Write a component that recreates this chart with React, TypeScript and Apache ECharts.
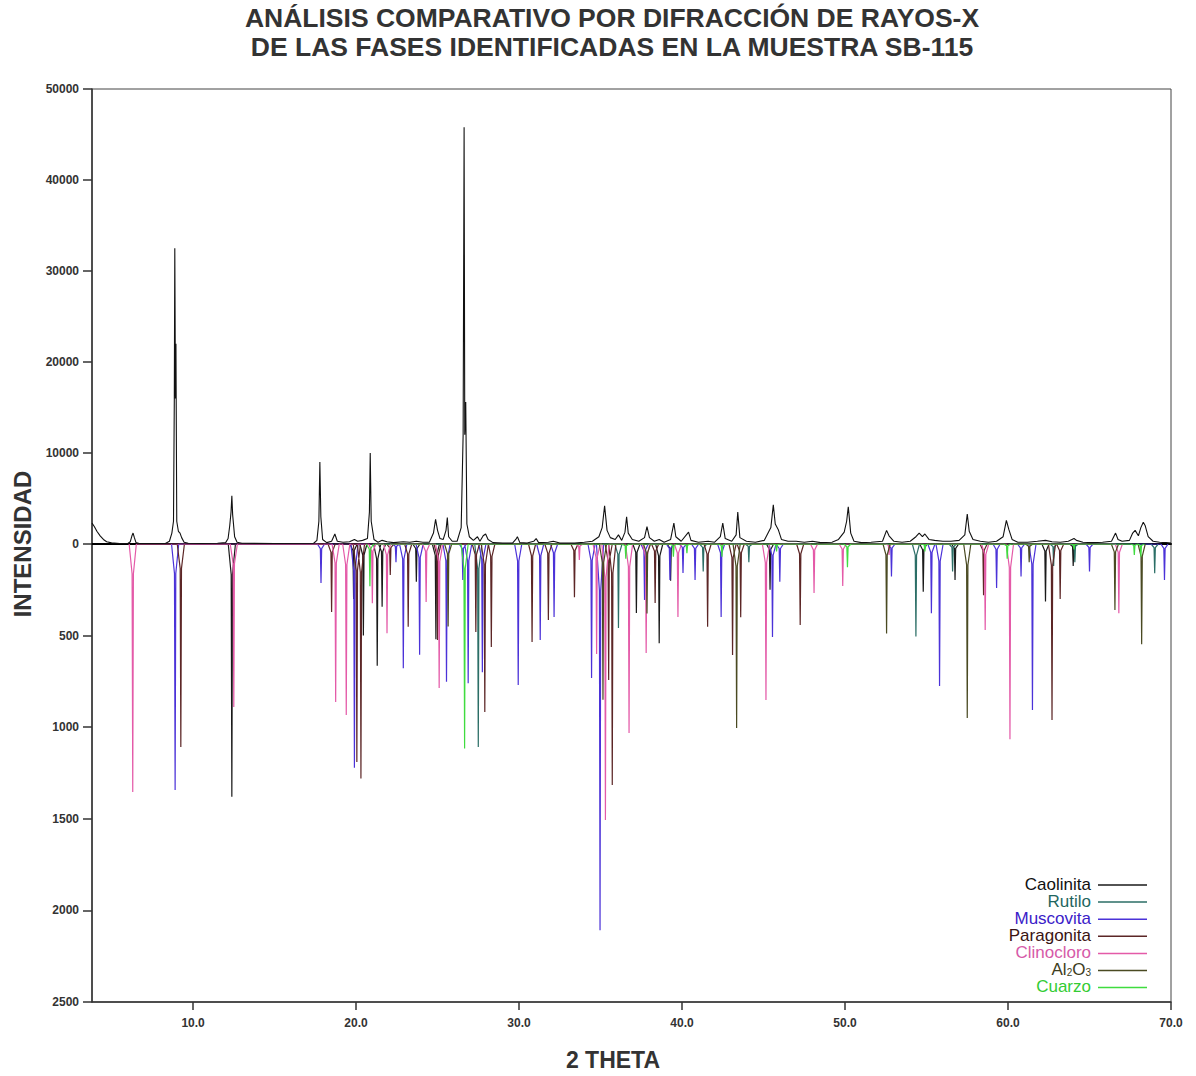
import React, { useEffect, useRef } from "react";
import * as echarts from "echarts";

// ---------- DATA ----------
const xTickValues = [10, 20, 30, 40, 50, 60, 70];

// measured diffractogram (2θ, counts) – upper panel
const observedPattern: number[][] = [
  [3.8, 2300], [3.95, 1900], [4.1, 1400], [4.3, 900], [4.5, 500], [4.7, 250], [5.0, 120], [5.5, 60], [6.0, 50],
  [6.15, 250], [6.25, 900], [6.32, 1200], [6.4, 700], [6.5, 150], [6.7, 50],
  [8.3, 60], [8.55, 300], [8.7, 1200], [8.8, 2500], [8.85, 16000], [8.88, 32500], [8.92, 16000], [8.95, 22000],
  [9.0, 2500], [9.1, 1400], [9.2, 1200], [9.3, 700], [9.45, 200], [9.7, 80],
  [10.5, 60], [11.5, 80], [12.0, 150], [12.15, 600], [12.25, 2000], [12.33, 3500], [12.38, 5300], [12.43, 3200],
  [12.55, 800], [12.7, 200], [13.0, 80], [15.0, 60],
  [17.4, 80], [17.6, 400], [17.72, 2500], [17.78, 9000], [17.84, 3000], [17.95, 500], [18.2, 150], [18.5, 300],
  [18.7, 1100], [18.85, 300], [19.2, 200], [19.6, 250], [19.9, 500], [20.1, 300], [20.4, 400], [20.7, 600],
  [20.82, 3500], [20.87, 10000], [20.93, 2500], [21.1, 500], [21.35, 200], [21.6, 400], [21.9, 250], [22.3, 150],
  [22.9, 250], [23.3, 200], [23.7, 300], [24.1, 200], [24.5, 200], [24.75, 1200], [24.88, 2700], [25.0, 1500],
  [25.15, 600], [25.35, 500], [25.52, 1500], [25.6, 2900], [25.68, 800], [25.9, 300], [26.2, 300], [26.45, 1800],
  [26.57, 12000], [26.63, 45800], [26.67, 12000], [26.73, 15600], [26.8, 2200], [26.95, 800], [27.2, 400],
  [27.45, 800], [27.6, 300], [27.8, 900], [27.95, 1100], [28.1, 500], [28.4, 150], [29.0, 100],
  [29.6, 100], [29.8, 500], [29.9, 800], [30.05, 150], [30.5, 100], [30.9, 300], [31.05, 600], [31.2, 150],
  [31.8, 200], [32.1, 300], [32.5, 100], [33.4, 100], [34.0, 200], [34.5, 300], [34.9, 800], [35.1, 1800],
  [35.25, 4200], [35.4, 1500], [35.6, 700], [35.9, 500], [36.1, 1000], [36.3, 400], [36.5, 1300], [36.6, 3000],
  [36.7, 1200], [36.95, 500], [37.35, 300], [37.7, 700], [37.85, 1900], [38.0, 700], [38.3, 300], [38.6, 500],
  [38.9, 200], [39.3, 500], [39.5, 2300], [39.62, 800], [39.95, 300], [40.4, 1300], [40.55, 400], [41.0, 200],
  [41.6, 300], [42.0, 200], [42.35, 800], [42.5, 2300], [42.65, 600], [43.05, 300], [43.32, 1000], [43.42, 3500],
  [43.55, 700], [43.95, 300], [44.5, 200], [45.05, 400], [45.45, 1800], [45.6, 4300], [45.72, 2200], [45.9, 1600],
  [46.1, 500], [46.5, 300], [47.0, 300], [47.5, 200], [48.0, 300], [48.5, 150], [49.2, 200], [49.6, 500],
  [49.95, 1300], [50.1, 2500], [50.2, 4100], [50.35, 1200], [50.55, 300], [51.0, 150], [51.6, 200], [52.3, 300],
  [52.55, 1500], [52.7, 900], [53.0, 300], [53.5, 200], [54.0, 300], [54.35, 800], [54.55, 1200], [54.75, 800],
  [54.9, 1100], [55.15, 500], [55.5, 400], [56.0, 300], [56.5, 300], [57.0, 400], [57.35, 1000], [57.5, 3300],
  [57.62, 1400], [57.85, 500], [58.3, 300], [58.8, 200], [59.3, 300], [59.7, 800], [59.9, 2600], [60.05, 1600],
  [60.25, 500], [60.6, 200], [61.2, 200], [61.8, 300], [62.3, 400], [62.7, 250], [63.2, 200], [63.7, 300],
  [64.05, 600], [64.2, 400], [64.6, 200], [65.2, 150], [65.8, 200], [66.35, 300], [66.6, 1200], [66.75, 500],
  [67.0, 300], [67.45, 400], [67.65, 1200], [67.8, 1500], [68.0, 900], [68.15, 1800], [68.3, 2400], [68.42, 2000],
  [68.6, 800], [68.9, 300], [69.3, 200], [69.7, 150], [70.0, 100],
];

// reference patterns (2θ, intensity) – lower panel, drawn downwards
const caolinitaPeaks: number[][] = [
  [12.38, 1380], [19.85, 300], [20.45, 500], [21.3, 664], [21.6, 343], [23.7, 206], [24.9, 520], [37.2, 377],
  [38.6, 542], [39.3, 200], [45.4, 250], [54.8, 260], [56.75, 196], [62.3, 314], [64.0, 120],
];
const rutiloPeaks: number[][] = [
  [27.5, 1108], [36.1, 458], [41.3, 150], [44.1, 100], [54.35, 505], [56.6, 150], [62.8, 120], [64.1, 100], [69.0, 160],
];
const muscovitaPeaks: number[][] = [
  [8.9, 1343], [17.85, 213], [19.9, 1222], [22.45, 100], [22.9, 678], [23.9, 605], [25.55, 752], [26.55, 196],
  [26.88, 760], [27.75, 700], [29.95, 770], [31.3, 524], [32.15, 398], [34.45, 732], [34.97, 2108], [37.7, 305],
  [39.26, 196], [40.06, 158], [40.8, 196], [42.4, 398], [45.55, 507], [46.0, 206], [52.85, 178], [55.3, 378],
  [55.8, 775], [59.3, 240], [60.8, 178], [61.5, 906], [65.0, 150], [69.6, 196],
];
const paragonitaPeaks: number[][] = [
  [9.25, 1108], [18.5, 371], [20.05, 1190], [20.3, 1280], [22.1, 169], [23.2, 451], [25.0, 524], [27.35, 480],
  [27.9, 917], [28.3, 562], [30.8, 535], [31.8, 415], [33.4, 290], [35.5, 742], [35.72, 1316], [38.35, 322],
  [41.57, 451], [43.1, 606], [43.6, 400], [47.25, 442], [58.5, 280], [62.7, 961], [63.2, 300],
];
const clinocloroPeaks: number[][] = [
  [6.3, 1354], [12.5, 890], [18.75, 862], [19.4, 933], [21.0, 323], [21.9, 487], [24.3, 316], [25.1, 786],
  [33.7, 87], [34.76, 600], [35.3, 1506], [36.75, 1032], [37.8, 595], [39.75, 398], [45.15, 851], [48.1, 268],
  [49.86, 229], [52.7, 60], [58.6, 470], [60.12, 1066], [66.8, 378],
];
const al2o3Peaks: number[][] = [
  [25.65, 450], [35.15, 850], [37.85, 380], [43.35, 1004], [52.55, 488], [57.5, 950], [61.3, 100], [66.56, 360], [68.2, 547],
];
const cuarzoPeaks: number[][] = [
  [20.85, 230], [26.66, 1116], [36.55, 80], [39.47, 70], [40.3, 50], [42.45, 70], [45.8, 40], [50.15, 127],
  [54.9, 40], [59.95, 80], [64.05, 30], [67.75, 60], [68.15, 70],
];

const phaseNames = ["Caolinita", "Rutilo", "Muscovita", "Paragonita", "Clinocloro", "Al2O3", "Cuarzo"];
const phasePeaks = [caolinitaPeaks, rutiloPeaks, muscovitaPeaks, paragonitaPeaks, clinocloroPeaks, al2o3Peaks, cuarzoPeaks];
const phaseLineColors = ["#1a1a1a", "#2b6e66", "#4b32d8", "#5c2626", "#e45aa8", "#4a4a22", "#3fdc3f"];
const phaseTextColors = ["#111111", "#1f6660", "#3a20c8", "#3a1414", "#d65aa8", "#3d3d20", "#33cc33"];

// peak drawing shape (relative offsets in 2θ, fraction of height)
const PROFILE = [[-0.22, 0], [-0.04, 0.12], [0, 1], [0.04, 0.12], [0.22, 0]];

function profileSeries(peaks: number[][]) {
  const sorted = [...peaks].sort((a, b) => a[0] - b[0]);
  const pts: number[][] = [];
  for (const [x, h] of sorted) for (const [dx, f] of PROFILE) pts.push([x + dx, h * f]);
  return pts;
}

const AXIS_FONT = "'Liberation Sans Narrow', 'Arial Narrow', 'Liberation Sans', sans-serif";
const MAIN_FONT = "'Liberation Sans', Arial, sans-serif";

export default function App() {
  const ref = useRef<HTMLDivElement>(null);
  useEffect(() => {
    document.body.style.margin = "0";
    if (!ref.current) return;
    const chart = echarts.init(ref.current, undefined, { renderer: "svg" });

    const L = 92, R = 1171, T = 89, MID = 544, B = 1002;
    const labelStyle = { color: "#333", fontFamily: AXIS_FONT, fontWeight: "bold" as const, fontSize: 12 };

    const legendItems: any[] = [];
    phaseNames.forEach((n, i) => {
      const y = 884 + i * 17.1;
      const isAl = n === "Al2O3";
      legendItems.push({
        type: "text",
        style: isAl
          ? {
              text: "{n|Al}{s|2}{n|O}{s|3}",
              x: 1091, y, align: "right", verticalAlign: "middle",
              rich: {
                n: { fontSize: 17, fontFamily: MAIN_FONT, fill: phaseTextColors[i], lineHeight: 16, verticalAlign: "middle" },
                s: { fontSize: 10, fontFamily: MAIN_FONT, fill: phaseTextColors[i], lineHeight: 16, verticalAlign: "bottom", padding: [7, 0, 0, 0] },
              },
            }
          : {
              text: n, x: 1091, y, align: "right", verticalAlign: "middle",
              fontSize: 17, lineHeight: 16, fontFamily: MAIN_FONT, fill: phaseTextColors[i],
            },
      });
      legendItems.push({
        type: "line",
        shape: { x1: 1098, y1: y + 1, x2: 1147, y2: y + 1 },
        style: { stroke: phaseLineColors[i], lineWidth: 1.5 },
      });
    });

    const option: any = {
      animation: false,
      backgroundColor: "#ffffff",
      grid: [
        { left: L, top: T, width: R - L, height: MID - T, show: true, borderColor: "#444", borderWidth: 1, backgroundColor: "transparent" },
        { left: L, top: MID, width: R - L, height: B - MID, show: true, borderColor: "#444", borderWidth: 1, backgroundColor: "transparent" },
      ],
      xAxis: [
        {
          type: "value", gridIndex: 0, min: 3.8, max: 70,
          axisLine: { show: true, onZero: true, lineStyle: { color: "#000", width: 2 } },
          axisTick: { show: false }, axisLabel: { show: false }, splitLine: { show: false },
        },
        {
          type: "value", gridIndex: 1, min: 3.8, max: 70, position: "bottom",
          axisLine: { show: true, onZero: false, lineStyle: { color: "#333", width: 1.5 } },
          axisTick: { show: true, length: 8, customValues: xTickValues, lineStyle: { color: "#333", width: 1.5 } },
          axisLabel: {
            show: true, customValues: xTickValues, margin: 15, ...labelStyle,
            formatter: (v: number) => v.toFixed(1),
          },
          splitLine: { show: false },
        },
      ],
      yAxis: [
        {
          type: "value", gridIndex: 0, min: 0, max: 50000, interval: 10000,
          axisLine: { show: true, lineStyle: { color: "#333", width: 1.5 } },
          axisTick: { show: true, length: 9, lineStyle: { color: "#333", width: 1.5 } },
          axisLabel: { margin: 13, ...labelStyle, formatter: (v: number) => String(v) },
          splitLine: { show: false },
        },
        {
          type: "value", gridIndex: 1, min: 0, max: 2500, interval: 500, inverse: true,
          axisLine: { show: true, lineStyle: { color: "#333", width: 1.5 } },
          axisTick: { show: true, length: 9, lineStyle: { color: "#333", width: 1.5 } },
          axisLabel: { margin: 13, showMinLabel: false, ...labelStyle, formatter: (v: number) => String(v) },
          splitLine: { show: false },
        },
      ],
      series: [
        ...phaseNames.map((n, i) => ({
          name: n, type: "line", xAxisIndex: 1, yAxisIndex: 1,
          data: profileSeries(phasePeaks[i]), symbol: "none", silent: true,
          lineStyle: { color: phaseLineColors[i], width: 1.2 }, itemStyle: { color: phaseLineColors[i] },
          z: 2 + i,
        })),
        {
          name: "Muestra", type: "line", xAxisIndex: 0, yAxisIndex: 0,
          data: observedPattern, symbol: "none", silent: true,
          lineStyle: { color: "#111", width: 1.1 }, z: 10,
        },
      ],
      graphic: [
        {
          type: "text",
          style: {
            text: "ANÁLISIS COMPARATIVO POR DIFRACCIÓN DE RAYOS-X", x: 612, y: 18,
            align: "center", verticalAlign: "middle", fontSize: 26.5, fontWeight: "bold", fontFamily: MAIN_FONT, fill: "#333",
          },
        },
        {
          type: "text",
          style: {
            text: "DE LAS FASES IDENTIFICADAS EN LA MUESTRA SB-115", x: 612, y: 47,
            align: "center", verticalAlign: "middle", fontSize: 26.5, fontWeight: "bold", fontFamily: MAIN_FONT, fill: "#333",
          },
        },
        {
          type: "text", x: 22, y: 544, rotation: Math.PI / 2,
          style: {
            text: "INTENSIDAD", x: 0, y: 0, align: "center", verticalAlign: "middle",
            fontSize: 24, fontWeight: "bold", fontFamily: MAIN_FONT, fill: "#333",
          },
        },
        {
          type: "text",
          style: {
            text: "2 THETA", x: 613, y: 1060, align: "center", verticalAlign: "middle",
            fontSize: 23, fontWeight: "bold", fontFamily: MAIN_FONT, fill: "#333",
          },
        },
        ...legendItems,
      ],
    };
    chart.setOption(option);
    return () => chart.dispose();
  }, []);
  return <div ref={ref} style={{ width: 1196, height: 1076 }} />;
}
